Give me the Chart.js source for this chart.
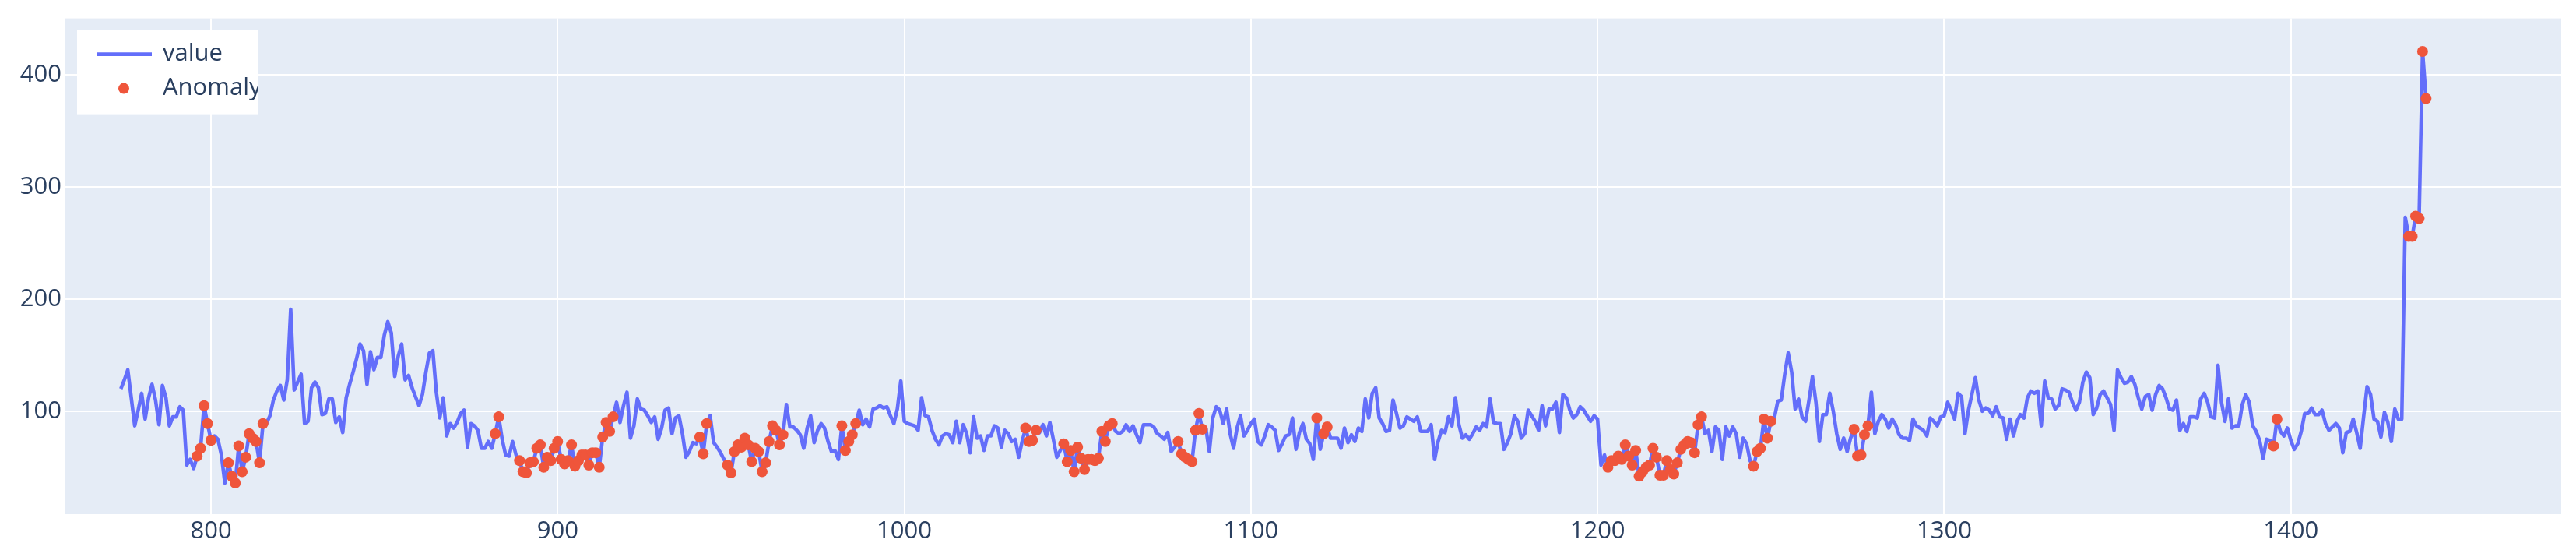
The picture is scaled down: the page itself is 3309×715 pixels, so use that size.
<!DOCTYPE html>
<html>
<head>
<meta charset="utf-8">
<title>value / Anomaly</title>
<script src="https://cdn.jsdelivr.net/npm/chart.js@4.4.0/dist/chart.umd.min.js"></script>
<style>
  html, body { margin: 0; padding: 0; background: #ffffff; }
  #chart { display: block; }
</style>
</head>
<body>
<canvas id="chart" width="3309" height="715"></canvas>
<script>
// Datos de la serie (un valor por índice, empezando en firstIndex)
const firstIndex = 774;
const values = [
  120, 128, 137, 112, 87, 101, 116, 93, 112, 124,   // 774
  110, 88, 123, 112, 87, 95, 95, 104, 101, 52,      // 784
  57, 49, 60, 67, 105, 89, 74, 78, 75, 61,          // 794
  36, 54, 42, 36, 69, 46, 59, 80, 76, 73,           // 804
  54, 89, 89, 96, 110, 118, 123, 110, 128, 191,     // 814
  119, 126, 133, 89, 91, 121, 126, 121, 97, 98,     // 824
  111, 111, 90, 95, 81, 112, 124, 135, 147, 160,    // 834
  154, 124, 153, 137, 148, 148, 168, 180, 170, 131, // 844
  149, 160, 128, 132, 121, 113, 105, 115, 135, 152, // 854
  154, 117, 94, 112, 78, 89, 85, 90, 98, 101,       // 864
  68, 89, 87, 83, 67, 67, 73, 67, 80, 95,           // 874
  75, 61, 60, 73, 61, 56, 46, 45, 54, 55,           // 884
  67, 70, 50, 59, 56, 67, 73, 57, 53, 56,           // 894
  70, 51, 56, 61, 61, 52, 63, 63, 50, 77,           // 904
  90, 82, 95, 108, 90, 105, 117, 76, 87, 111,       // 914
  102, 101, 96, 90, 95, 75, 85, 101, 103, 80,       // 924
  94, 96, 80, 59, 64, 72, 71, 77, 62, 89,           // 934
  96, 72, 68, 63, 57, 52, 45, 64, 70, 68,           // 944
  76, 70, 55, 67, 64, 46, 54, 73, 87, 83,           // 954
  70, 79, 106, 86, 86, 83, 79, 67, 85, 96,          // 964
  72, 83, 89, 85, 73, 64, 65, 57, 87, 65,           // 974
  73, 79, 89, 101, 88, 93, 86, 102, 103, 105,       // 984
  103, 104, 96, 89, 102, 127, 91, 89, 88, 87,       // 994
  83, 112, 96, 95, 83, 75, 70, 78, 80, 79,          // 1004
  72, 91, 72, 88, 80, 63, 95, 76, 78, 65,           // 1014
  78, 78, 87, 85, 68, 83, 80, 73, 75, 59,           // 1024
  73, 85, 73, 74, 83, 81, 88, 78, 90, 75,           // 1034
  59, 65, 71, 55, 65, 46, 68, 58, 48, 57,           // 1044
  57, 56, 58, 82, 73, 87, 89, 82, 80, 82,           // 1054
  88, 82, 87, 79, 72, 88, 88, 88, 86, 80,           // 1064
  78, 75, 81, 64, 68, 73, 62, 59, 57, 55,           // 1074
  83, 98, 84, 85, 64, 94, 104, 101, 89, 102,        // 1084
  80, 67, 85, 96, 78, 83, 89, 93, 73, 70,           // 1094
  78, 88, 86, 83, 65, 71, 78, 79, 94, 66,           // 1104
  81, 89, 75, 71, 57, 94, 66, 80, 86, 76,           // 1114
  76, 76, 67, 85, 72, 79, 73, 85, 82, 111,          // 1124
  94, 116, 121, 94, 89, 82, 83, 110, 98, 85,        // 1134
  87, 95, 93, 91, 95, 82, 82, 82, 88, 57,           // 1144
  73, 83, 81, 95, 87, 112, 88, 76, 79, 75,          // 1154
  80, 86, 83, 89, 86, 111, 90, 89, 89, 66,          // 1164
  72, 80, 96, 91, 76, 80, 101, 96, 91, 83,          // 1174
  105, 87, 102, 102, 108, 81, 115, 112, 101, 94,    // 1184
  97, 104, 101, 96, 91, 96, 93, 52, 61, 50,         // 1194
  56, 56, 60, 57, 70, 60, 52, 65, 42, 46,           // 1204
  50, 52, 67, 59, 43, 43, 56, 48, 44, 54,           // 1214
  66, 70, 73, 72, 63, 88, 95, 80, 83, 64,           // 1224
  86, 83, 57, 86, 78, 86, 80, 59, 76, 71,           // 1234
  56, 51, 64, 67, 93, 76, 91, 94, 109, 110,         // 1244
  133, 152, 135, 102, 111, 95, 91, 110, 131, 108,   // 1254
  73, 97, 97, 116, 100, 80, 66, 76, 64, 76,         // 1264
  84, 60, 61, 79, 87, 117, 80, 91, 97, 93,          // 1274
  85, 93, 88, 79, 76, 76, 74, 93, 87, 85,           // 1284
  83, 78, 94, 91, 87, 95, 96, 108, 101, 93,         // 1294
  116, 113, 80, 101, 115, 130, 110, 100, 103, 101,  // 1304
  96, 104, 95, 94, 75, 93, 78, 91, 97, 94,          // 1314
  112, 118, 116, 118, 87, 127, 112, 111, 102, 105,  // 1324
  120, 119, 117, 108, 101, 108, 126, 135, 130, 97,  // 1334
  103, 115, 118, 112, 106, 83, 137, 130, 125, 126,  // 1344
  131, 124, 112, 102, 113, 115, 101, 115, 123, 120, // 1354
  112, 102, 101, 110, 83, 89, 82, 95, 95, 94,       // 1364
  111, 116, 108, 95, 94, 141, 108, 91, 111, 85,     // 1374
  87, 87, 106, 115, 108, 87, 82, 74, 58, 75,        // 1384
  74, 69, 93, 82, 78, 85, 74, 66, 71, 82,           // 1394
  98, 98, 103, 97, 97, 101, 89, 83, 86, 89,         // 1404
  85, 63, 81, 82, 93, 81, 67, 95, 122, 115,         // 1414
  93, 91, 77, 99, 90, 73, 102, 93, 93, 273,         // 1424
  256, 256, 274, 272, 421, 379                      // 1434
];

// Índices marcados como anomalía
const anomalyIndex = [
  796, 797, 798, 799, 800,
  805, 806, 807, 808, 809, 810, 811, 812, 813, 814, 815,
  882, 883,
  889, 890, 891, 892, 893, 894, 895, 896, 897, 898, 899, 900, 901, 902,
  903, 904, 905, 906, 907, 908, 909, 910, 911, 912, 913, 914, 915, 916,
  941, 942, 943,
  949, 950, 951, 952, 953, 954, 955, 956, 957, 958, 959, 960, 961, 962, 963, 964, 965,
  982, 983, 984, 985, 986,
  1035, 1036, 1037, 1038,
  1046, 1047, 1048, 1049, 1050, 1051, 1052, 1053, 1054, 1055, 1056, 1057, 1058, 1059, 1060,
  1079, 1080, 1081, 1082, 1083, 1084, 1085, 1086,
  1119, 1121, 1122,
  1203, 1204, 1205, 1206, 1207, 1208, 1209, 1210, 1211, 1212, 1213, 1214, 1215, 1216,
  1217, 1218, 1219, 1220, 1221, 1222, 1223, 1224, 1225, 1226, 1227, 1228, 1229, 1230,
  1245, 1246, 1247, 1248, 1249, 1250,
  1274, 1275, 1276, 1277, 1278,
  1395, 1396,
  1434, 1435, 1436, 1437, 1438, 1439
];

// Etiquetas de los ejes
const xTicks = [800, 900, 1000, 1100, 1200, 1300, 1400];
const yTicks = [100, 200, 300, 400];
const seriesNames = ['value', 'Anomaly'];

// Estilos
const COLORS = {
  line: '#636efa',
  anomaly: '#ef553b',
  plotBg: '#e5ecf6',
  grid: '#ffffff',
  text: '#2a3f5f'
};
const FONT_FAMILY = '"Open Sans", Lato, "Noto Sans", sans-serif';
const FONT_SIZE = 31;

/**
 * Puntos {x, y} de la serie principal
 */
function buildValuePoints() {
  return values.map((v, i) => ({ x: firstIndex + i, y: v }));
}

/**
 */
function buildAnomalyPoints() {
  return anomalyIndex.map(idx => ({ x: idx, y: values[idx - firstIndex] }));
}

// Fondo del área de dibujo
const plotBackground = {
  id: 'plotBackground',
  beforeDraw(chart) {
    const { ctx, chartArea } = chart;
    ctx.save();
    ctx.fillStyle = '#ffffff';
    ctx.fillRect(0, 0, chart.width, chart.height);
    ctx.fillStyle = COLORS.plotBg;
    ctx.fillRect(chartArea.left, chartArea.top,
      chartArea.right - chartArea.left, chartArea.bottom - chartArea.top);
    ctx.restore();
  }
};

// Leyenda dentro del gráfico, arriba a la izquierda
const insideLegend = {
  id: 'insideLegend',
  afterDraw(chart) {
    const { ctx, chartArea } = chart;
    const box = { x: chartArea.left + 15, y: chartArea.top + 15, w: 233, h: 108 };
    const rows = [box.y + 31, box.y + 75];

    ctx.save();
    ctx.fillStyle = '#ffffff';
    ctx.fillRect(box.x, box.y, box.w, box.h);
    ctx.beginPath();
    ctx.rect(box.x, box.y, box.w, box.h);
    ctx.clip();

    // Muestra de la línea
    ctx.strokeStyle = COLORS.line;
    ctx.lineWidth = 4.6;
    ctx.beginPath();
    ctx.moveTo(box.x + 25, rows[0]);
    ctx.lineTo(box.x + 96, rows[0]);
    ctx.stroke();

    // Muestra del punto
    ctx.fillStyle = COLORS.anomaly;
    ctx.beginPath();
    ctx.arc(box.x + 60, rows[1], 7, 0, Math.PI * 2);
    ctx.fill();

    // Textos
    ctx.fillStyle = COLORS.text;
    ctx.font = `${FONT_SIZE}px ${FONT_FAMILY}`;
    ctx.textAlign = 'left';
    ctx.textBaseline = 'middle';
    ctx.fillText(seriesNames[0], box.x + 110, rows[0]);
    ctx.fillText(seriesNames[1], box.x + 110, rows[1]);
    ctx.restore();
  }
};

const tickFont = { family: FONT_FAMILY, size: FONT_SIZE };

const chart = new Chart(document.getElementById('chart'), {
  type: 'line',
  data: {
    datasets: [{
      label: seriesNames[0],
      data: buildValuePoints(),
      borderColor: COLORS.line,
      backgroundColor: COLORS.line,
      borderWidth: 4.6,
      borderJoinStyle: 'round',
      pointRadius: 0,
      tension: 0,
      order: 2
    }, {
      label: seriesNames[1],
      data: buildAnomalyPoints(),
      showLine: false,
      pointRadius: 7,
      pointBackgroundColor: COLORS.anomaly,
      pointBorderWidth: 0,
      borderColor: COLORS.anomaly,
      order: 1
    }]
  },
  options: {
    responsive: false,
    animation: false,
    devicePixelRatio: 1,
    layout: { padding: { left: 0, right: 19, top: 22, bottom: 0 } },
    plugins: {
      legend: { display: false },
      tooltip: { enabled: false }
    },
    scales: {
      x: {
        type: 'linear',
        min: 758,
        max: 1478,
        afterBuildTicks: axis => { axis.ticks = xTicks.map(v => ({ value: v })); },
        afterFit: axis => { axis.height = 55; },
        grid: { color: COLORS.grid, lineWidth: 2, drawTicks: false },
        border: { display: false },
        ticks: {
          autoSkip: false,
          maxRotation: 0,
          padding: 4,
          color: COLORS.text,
          font: tickFont,
          callback: v => String(v)
        }
      },
      y: {
        type: 'linear',
        min: 8.2,
        max: 450.5,
        afterBuildTicks: axis => { axis.ticks = yTicks.map(v => ({ value: v })); },
        afterFit: axis => { axis.width = 84; },
        grid: { color: COLORS.grid, lineWidth: 2, drawTicks: false },
        border: { display: false },
        ticks: {
          padding: 5,
          color: COLORS.text,
          font: tickFont,
          callback: v => String(v)
        }
      }
    }
  },
  plugins: [plotBackground, insideLegend]
});
</script>
</body>
</html>
